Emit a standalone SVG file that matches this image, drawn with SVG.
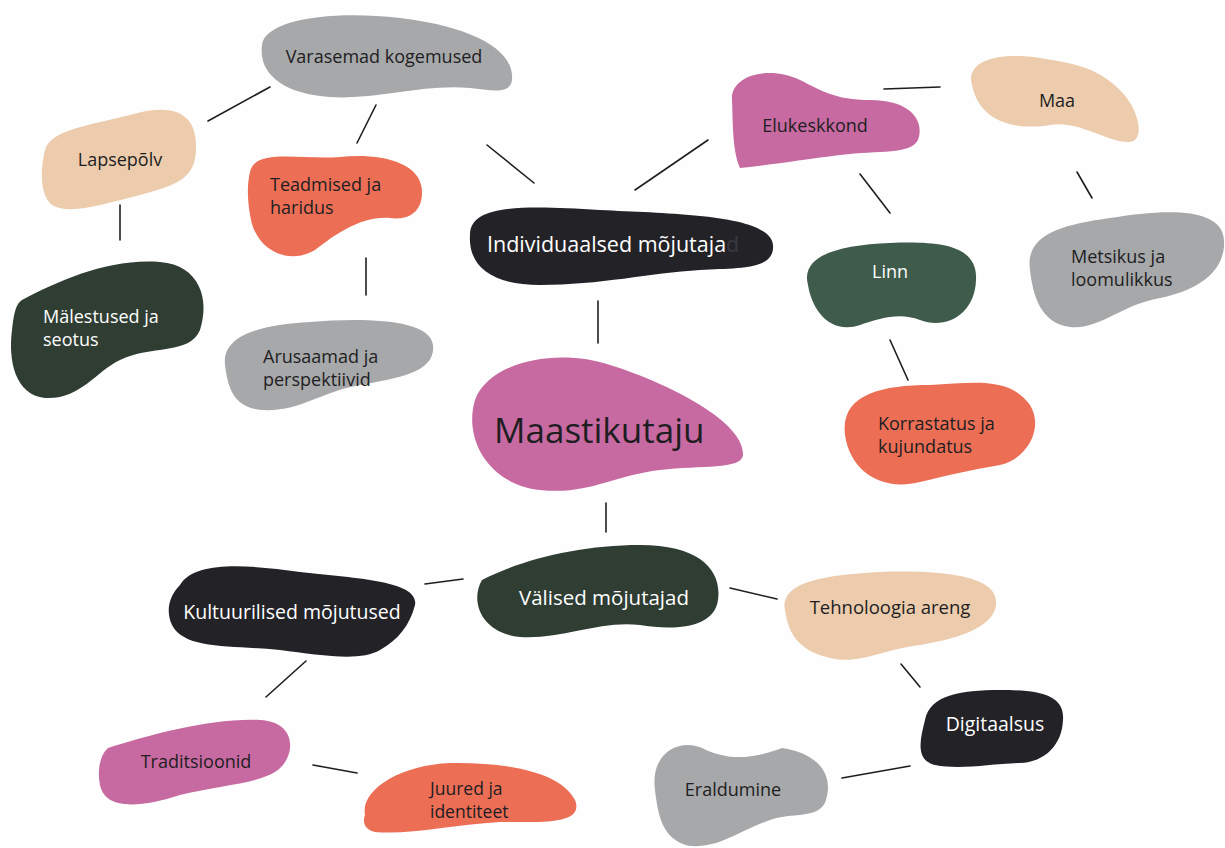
<svg xmlns="http://www.w3.org/2000/svg" width="1225" height="848" viewBox="0 0 1225 848">
<style>
.t{font-family:"Open Sans","Noto Sans",sans-serif;font-size:18px;fill:#1e1e22}
.w{fill:#ffffff}
.c{text-anchor:middle}
.grey{fill:#a7a8aa}
.peach{fill:#ecccad}
.salmon{fill:#ec6e55}
.dgreen{fill:#2f3d33}
.green{fill:#3f5b4b}
.pink{fill:#c76aa1}
.dark{fill:#232227}
#connectors line{stroke:#1e1e1e;stroke-width:1.6;stroke-linecap:round}
</style>
<rect width="1225" height="848" fill="#fefefe"/>
<g id="connectors">
<line x1="208" y1="121" x2="270" y2="87"/>
<line x1="357" y1="143" x2="376" y2="105"/>
<line x1="487" y1="145" x2="534" y2="183"/>
<line x1="120" y1="205" x2="120" y2="240"/>
<line x1="366" y1="258" x2="366" y2="295"/>
<line x1="635" y1="190" x2="708" y2="140"/>
<line x1="884" y1="89" x2="940" y2="87"/>
<line x1="860" y1="174" x2="890" y2="213"/>
<line x1="1077" y1="172" x2="1092" y2="198"/>
<line x1="890" y1="340" x2="908" y2="380"/>
<line x1="598" y1="301" x2="598" y2="343"/>
<line x1="606" y1="503" x2="606" y2="532"/>
<line x1="425" y1="584" x2="463" y2="579"/>
<line x1="730" y1="588" x2="777" y2="599"/>
<line x1="266" y1="697" x2="306" y2="661"/>
<line x1="313" y1="765" x2="357" y2="773"/>
<line x1="901" y1="664" x2="920" y2="687"/>
<line x1="842" y1="778" x2="910" y2="766"/>
</g>
<g id="varasemad">
<path class="grey" d="M 262 45 C 265 20, 330 10, 400 18 C 460 25, 515 45, 512 80 C 510 95, 490 90, 470 88 C 420 84, 380 100, 330 97 C 285 94, 258 75, 262 45 Z"/>
<text class="t c" x="384" y="63">Varasemad kogemused</text>
</g>
<g id="lapsepolv">
<path class="peach" d="M 45 150 C 50 130, 90 125, 130 115 C 170 103, 198 110, 196 150 C 195 180, 175 185, 140 195 C 100 205, 70 215, 52 205 C 40 195, 40 170, 45 150 Z"/>
<text class="t c" x="120" y="166">Lapsepõlv</text>
</g>
<g id="teadmised">
<path class="salmon" d="M 250 172 C 255 148, 300 160, 340 157 C 375 153, 420 160, 422 190 C 423 215, 405 220, 390 218 C 360 216, 335 235, 315 250 C 290 265, 258 252, 251 220 C 247 200, 247 185, 250 172 Z"/>
<text class="t" x="270" y="191">Teadmised ja</text>
<text class="t" x="270" y="214">haridus</text>
</g>
<g id="malestused">
<path class="dgreen" d="M 22 300 C 60 280, 110 258, 160 262 C 200 265, 210 300, 200 330 C 190 355, 150 345, 120 360 C 95 372, 80 400, 45 398 C 15 395, 8 360, 12 330 C 14 312, 16 304, 22 300 Z"/>
<text class="t w" x="43" y="323">Mälestused ja</text>
<text class="t w" x="43" y="346">seotus</text>
</g>
<g id="arusaamad">
<path class="grey" d="M 225 365 C 222 335, 260 325, 310 322 C 360 318, 430 318, 433 345 C 436 372, 400 378, 360 385 C 320 392, 300 412, 262 410 C 235 408, 228 390, 225 365 Z"/>
<text class="t" x="263" y="363">Arusaamad ja</text>
<text class="t" x="263" y="386">perspektiivid</text>
</g>
<g id="individuaalsed">
<path class="dark" d="M 470 235 C 470 205, 520 205, 600 210 C 680 214, 770 215, 773 245 C 775 270, 740 268, 700 270 C 650 273, 600 285, 540 285 C 490 285, 468 265, 470 235 Z"/>
<text class="t" x="487" y="252" style="font-size:21.5px"><tspan fill="#ffffff">Individuaalsed mõjutaja</tspan><tspan fill="#3a3a40">d</tspan></text>
</g>
<g id="maastikutaju">
<path class="pink" d="M 475 400 C 490 360, 560 348, 610 365 C 660 380, 745 420, 743 455 C 742 470, 700 465, 660 470 C 610 476, 590 495, 540 490 C 490 485, 463 440, 475 400 Z"/>
<text class="t" x="494" y="443" style="font-size:35px">Maastikutaju</text>
</g>
<g id="elukeskkond">
<path class="pink" d="M 732 100 C 730 75, 770 65, 800 80 C 820 90, 835 100, 870 100 C 910 100, 925 120, 918 140 C 910 155, 880 150, 840 155 C 800 160, 770 165, 740 168 C 732 150, 733 120, 732 100 Z"/>
<text class="t c" x="815" y="132">Elukeskkond</text>
</g>
<g id="maa">
<path class="peach" d="M 972 85 C 965 60, 1000 52, 1040 58 C 1080 64, 1100 70, 1120 90 C 1140 110, 1145 140, 1130 142 C 1110 144, 1080 120, 1050 125 C 1020 130, 980 125, 972 85 Z"/>
<text class="t c" x="1057" y="107">Maa</text>
</g>
<g id="linn">
<path class="green" d="M 808 285 C 800 255, 840 245, 890 243 C 940 241, 978 245, 976 280 C 975 315, 945 330, 920 320 C 900 312, 880 318, 860 325 C 830 335, 812 310, 808 285 Z"/>
<text class="t w c" x="890" y="278">Linn</text>
</g>
<g id="metsikus">
<path class="grey" d="M 1030 270 C 1025 235, 1060 225, 1110 218 C 1160 210, 1222 205, 1224 240 C 1226 270, 1200 290, 1160 298 C 1120 305, 1100 330, 1070 327 C 1040 323, 1033 295, 1030 270 Z"/>
<text class="t" x="1071" y="263">Metsikus ja</text>
<text class="t" x="1071" y="286">loomulikkus</text>
</g>
<g id="korrastatus">
<path class="salmon" d="M 845 435 C 840 395, 880 385, 930 385 C 980 382, 1010 378, 1030 405 C 1045 430, 1025 460, 1000 465 C 970 470, 950 475, 920 482 C 880 492, 850 470, 845 435 Z"/>
<text class="t" x="878" y="430">Korrastatus ja</text>
<text class="t" x="878" y="453">kujundatus</text>
</g>
<g id="valised">
<path class="dgreen" d="M 482 580 C 520 560, 580 545, 640 545 C 700 545, 722 570, 718 600 C 714 630, 670 630, 640 625 C 600 620, 560 640, 520 637 C 480 633, 470 600, 482 580 Z"/>
<text class="t w c" x="604" y="605" style="font-size:20.5px">Välised mõjutajad</text>
</g>
<g id="kultuurilised">
<path class="dark" d="M 180 585 C 195 560, 250 565, 300 572 C 350 578, 420 580, 415 605 C 410 625, 398 640, 380 650 C 360 662, 320 655, 280 650 C 230 645, 185 650, 172 625 C 165 610, 170 595, 180 585 Z"/>
<text class="t w c" x="292" y="619" style="font-size:19.5px">Kultuurilised mõjutused</text>
</g>
<g id="traditsioonid">
<path class="pink" d="M 108 748 C 150 735, 210 718, 260 720 C 300 722, 295 760, 275 772 C 255 784, 220 785, 180 795 C 140 808, 105 810, 100 785 C 97 770, 100 755, 108 748 Z"/>
<text class="t c" x="196" y="768">Traditsioonid</text>
</g>
<g id="juured">
<path class="salmon" d="M 365 815 C 360 790, 400 765, 450 763 C 500 762, 560 770, 575 800 C 585 825, 540 822, 500 822 C 450 825, 410 835, 375 832 C 365 830, 362 822, 365 815 Z"/>
<text class="t" x="430" y="795" style="font-size:17.5px">Juured ja</text>
<text class="t" x="430" y="818" style="font-size:17.5px">identiteet</text>
</g>
<g id="tehnoloogia">
<path class="peach" d="M 785 610 C 780 580, 830 575, 880 572 C 940 570, 1000 575, 996 605 C 993 630, 950 640, 920 645 C 880 650, 860 665, 830 658 C 795 650, 788 630, 785 610 Z"/>
<text class="t c" x="890" y="614" style="font-size:18.5px">Tehnoloogia areng</text>
</g>
<g id="digitaalsus">
<path class="dark" d="M 925 720 C 930 695, 960 690, 1000 690 C 1040 690, 1065 695, 1063 720 C 1062 745, 1045 762, 1020 763 C 990 764, 960 770, 935 765 C 915 760, 920 740, 925 720 Z"/>
<text class="t w c" x="995" y="731" style="font-size:19.5px">Digitaalsus</text>
</g>
<g id="eraldumine">
<path class="grey" d="M 655 790 C 650 752, 680 738, 702 748 C 722 758, 745 762, 782 748 C 812 752, 835 770, 826 800 C 820 820, 790 812, 770 820 C 740 830, 720 848, 690 846 C 662 840, 658 815, 655 790 Z"/>
<text class="t c" x="733" y="796">Eraldumine</text>
</g>
</svg>
